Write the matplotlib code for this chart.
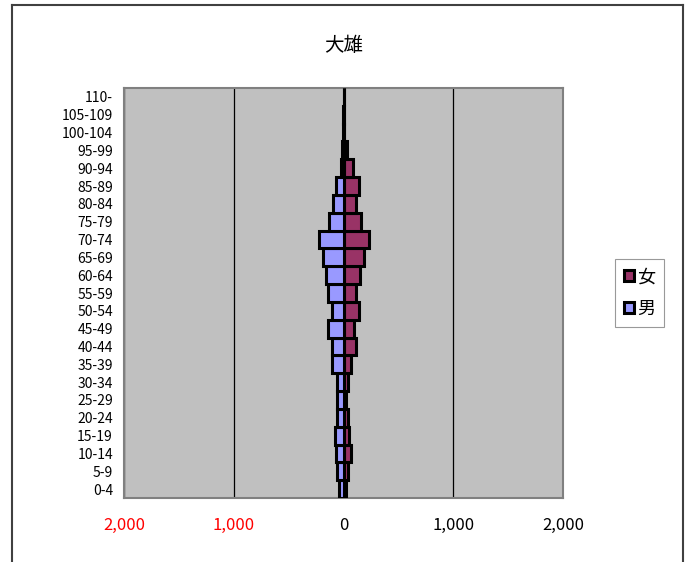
import numpy as np
import matplotlib.pyplot as plt
from matplotlib.lines import Line2D
from matplotlib.ticker import FuncFormatter

plt.rcParams['font.family'] = ['Noto Sans CJK JP', 'DejaVu Sans']

# 年齢階級（下から上）
ages = ['0-4', '5-9', '10-14', '15-19', '20-24', '25-29', '30-34', '35-39',
        '40-44', '45-49', '50-54', '55-59', '60-64', '65-69', '70-74',
        '75-79', '80-84', '85-89', '90-94', '95-99', '100-104', '105-109', '110-']
male = [40, 55, 70, 80, 55, 55, 55, 105, 105, 145, 105, 140, 160, 185, 220,
        130, 95, 65, 25, 15, 2, 1, 0]
female = [25, 40, 65, 50, 40, 25, 40, 70, 110, 100, 145, 115, 150, 185, 235,
          155, 110, 140, 90, 35, 2, 1, 0]

fig = plt.figure(figsize=(6.93, 5.62), dpi=100)
ax = fig.add_axes([124/693, 1 - 498/562, (563 - 124)/693, (498 - 88)/562])
ax.set_facecolor('#C0C0C0')

y = np.arange(len(ages))
ax.barh(y, female, height=1.0, color='#993366', edgecolor='black', linewidth=2.2, label='女', zorder=3)
ax.barh(y, [-m for m in male], height=1.0, color='#9999FF', edgecolor='black', linewidth=2.2, label='男', zorder=3)

ax.set_xlim(-2000, 2000)
ax.set_ylim(-0.5, len(ages) - 0.5)
ax.set_xticks([-2000, -1000, 0, 1000, 2000])
ax.xaxis.set_major_formatter(FuncFormatter(lambda v, p: f'{abs(int(v)):,}'))
ax.set_yticks(y)
ax.set_yticklabels(ages, fontsize=10)
ax.tick_params(axis='x', labelsize=12, length=0, pad=14)
ax.tick_params(axis='y', length=0, pad=8)
for lbl, v in zip(ax.get_xticklabels(), [-2000, -1000, 0, 1000, 2000]):
    if v < 0:
        lbl.set_color('red')
ax.grid(axis='x', color='black', linewidth=0.9, zorder=1)
for s in ax.spines.values():
    s.set_color('#808080')
    s.set_linewidth(1.5)

ax.set_title('大雄', fontsize=14, pad=27)

leg = ax.legend(loc='center left', bbox_to_anchor=(1.097, 0.50), fontsize=13,
                frameon=True, fancybox=False, edgecolor='#808080',
                handlelength=0.55, handleheight=0.55, handletextpad=0.2,
                borderpad=0.5, labelspacing=0.75)
leg.get_frame().set_linewidth(0.8)

# 外枠
fig.add_artist(Line2D([12/693, 12/693], [0, 1 - 5/562], color='#404040', linewidth=1.5))
fig.add_artist(Line2D([12/693, 683/693], [1 - 5/562, 1 - 5/562], color='#404040', linewidth=1.5))
fig.add_artist(Line2D([683/693, 683/693], [0, 1 - 5/562], color='#404040', linewidth=1.5))

fig.savefig('out.png', dpi=100)
